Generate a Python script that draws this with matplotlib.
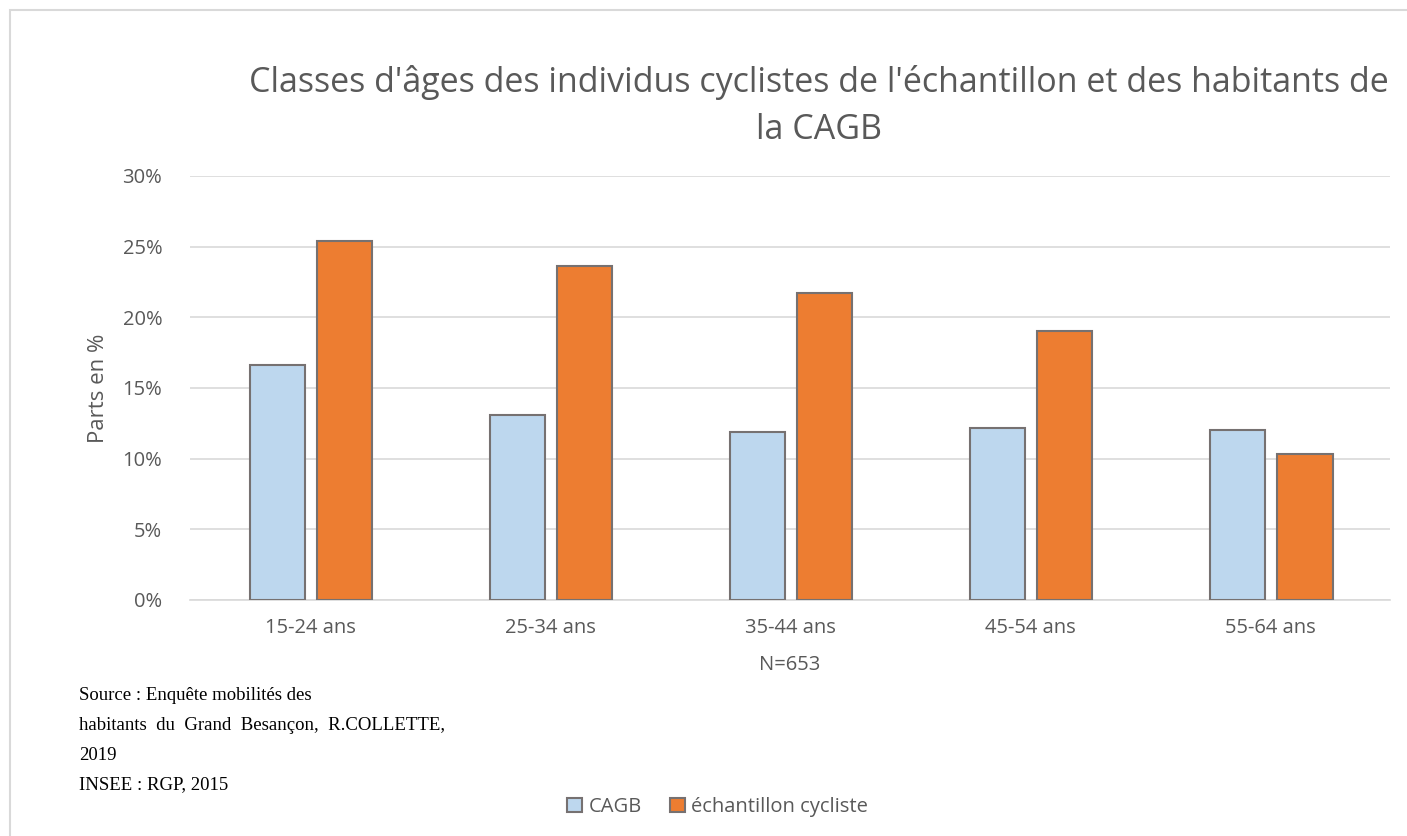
import numpy as np
import matplotlib
matplotlib.use("Agg")
import matplotlib.pyplot as plt
from matplotlib.patches import Rectangle
from matplotlib.ticker import FuncFormatter

categories = ["15-24 ans", "25-34 ans", "35-44 ans", "45-54 ans", "55-64 ans"]
cagb = [16.6, 13.1, 11.9, 12.2, 12.0]
cyclistes = [25.4, 23.6, 21.75, 19.0, 10.3]
series_names = ["CAGB", "échantillon cycliste"]

BLUE = "#BDD7EE"
ORANGE = "#ED7D31"
EDGE = "#767171"
GREY_TXT = "#595959"

plt.rcParams["font.family"] = ["Open Sans", "DejaVu Sans"]

fig = plt.figure(figsize=(14.07, 8.36), dpi=100)
ax = fig.add_axes([0.135, 0.2823, 0.853, 0.5072])

x = np.arange(len(categories))
w = 0.23
ax.bar(x - 0.135, cagb, w, color=BLUE, edgecolor=EDGE, linewidth=1.5,
       label=series_names[0], zorder=3)
ax.bar(x + 0.145, cyclistes, w, color=ORANGE, edgecolor=EDGE, linewidth=1.5,
       label=series_names[1], zorder=3)

ax.set_xlim(-0.5, len(categories) - 0.5)
ax.set_ylim(0, 30)
ax.set_yticks(np.arange(0, 31, 5))
ax.yaxis.set_major_formatter(FuncFormatter(lambda v, p: f"{v:.0f}%"))
ax.set_xticks(x)
ax.set_xticklabels(categories)
ax.grid(axis="y", color="#D9D9D9", linewidth=1.2, zorder=0)
for s in ["top", "right", "left"]:
    ax.spines[s].set_visible(False)
ax.spines["bottom"].set_color("#D9D9D9")
ax.spines["bottom"].set_linewidth(1.2)
ax.tick_params(length=0, labelsize=14.5, colors=GREY_TXT, pad=13)
ax.tick_params(axis="y", pad=20)

ax.set_ylabel("Parts en %", fontsize=16, color=GREY_TXT, labelpad=10)
ax.set_xlabel("N=653", fontsize=14.5, color=GREY_TXT, labelpad=12)

fig.text(0.582, 1 - 82 / 836, "Classes d'âges des individus cyclistes de l'échantillon et des habitants de",
         ha="center", va="center", fontsize=24.5, color=GREY_TXT)
fig.text(0.582, 1 - 130 / 836, "la CAGB",
         ha="center", va="center", fontsize=24.5, color=GREY_TXT)

src = ["Source : Enquête mobilités des",
       "habitants  du  Grand  Besançon,  R.COLLETTE,",
       "2019",
       "INSEE : RGP, 2015"]
for i, line in enumerate(src):
    fig.text(0.056, 1 - (695 + 30 * i) / 836, line, ha="left", va="center",
             fontsize=13.5, family="Liberation Serif", color="black")

leg = fig.legend(loc="center", bbox_to_anchor=(0.51, 1 - 807 / 836), ncol=2,
                 frameon=False, fontsize=14.5, handlelength=0.75, handleheight=0.75,
                 handletextpad=0.3, columnspacing=1.4)
for t in leg.get_texts():
    t.set_color(GREY_TXT)

fig.patches.append(Rectangle((10 / 1407, -0.1), 1.2, 1 - 10 / 836 + 0.1,
                             transform=fig.transFigure, fill=False,
                             edgecolor="#D9D9D9", linewidth=1.5))

fig.savefig("out.png", dpi=100)
